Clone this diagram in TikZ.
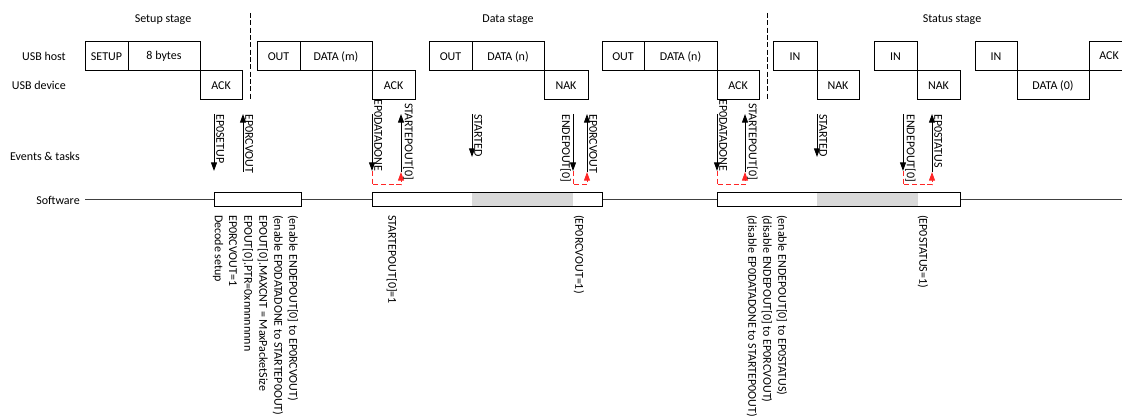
\documentclass[tikz,border=0pt]{standalone}
\usepackage{fontspec}
\setmainfont{Carlito}
\usetikzlibrary{arrows.meta}
\newcommand\pkbox[5]{\node[pkt, minimum width={(#3-#2)*0.75pt}] (#1) at (#2,#4) {#5};}
\begin{document}
\begin{tikzpicture}[x=0.75pt,y=-0.75pt,
  every node/.style={font=\fontsize{9pt}{11pt}\selectfont},
  pkt/.style={draw, line width=0.75pt, inner sep=0pt, outer sep=0pt, minimum height=21.75pt, anchor=north west},
  swbox/.style={draw, fill=white, line width=0.75pt, inner sep=0pt, outer sep=0pt, minimum height=10.5pt, anchor=north west},
  graybox/.style={fill=gray!30, inner sep=0pt, outer sep=0pt, minimum height=9.75pt, anchor=north west},
  rowlab/.style={anchor=east, inner sep=0pt},
  stagelab/.style={inner sep=0pt},
  vlab/.style={rotate=-90, anchor=west, inner sep=0pt},
  elab/.style={rotate=-90, inner xsep=0pt, inner ysep=1.5pt, anchor=south west},
  elabl/.style={rotate=-90, inner xsep=0pt, inner ysep=1.5pt, anchor=north west},
  ev/.style={line width=0.75pt, -{Triangle[length=6.5pt,width=4.5pt]}},
  redd/.style={red!85, line width=0.75pt, dash pattern=on 3.75pt off 2pt, -{Triangle[length=6.5pt,width=4.5pt]}},
  sep/.style={line width=0.75pt, dash pattern=on 3.75pt off 1.75pt},
  swline/.style={line width=0.75pt, black!75}]
\useasboundingbox (0,0) rectangle (1122,417);

% stage labels
\node[stagelab] (st1) at (163,20) {Setup stage};
\node[stagelab] (st2) at (508,20) {Data stage};
\node[stagelab] (st3) at (952,20) {Status stage};

% row labels
\node[rowlab] (lhost) at (66,56) {USB host};
\node[rowlab] (ldev) at (66,85) {USB device};
\node[rowlab] (lev) at (80,156) {Events \& tasks};
\node[rowlab] (lsw) at (80,200) {Software};

% stage separators
\coordinate (d1t) at (250,13); \coordinate (d1b) at (250,100);
\coordinate (d2t) at (767,13); \coordinate (d2b) at (767,100);
\draw[sep] (d1t) -- (d1b);
\draw[sep] (d2t) -- (d2b);

% packets
\pkbox{p1}{85}{128}{42}{SETUP}
\pkbox{p2}{128}{200}{42}{8 bytes}
\pkbox{p3}{200}{242}{71}{ACK}
\pkbox{p4}{257}{300}{42}{OUT}
\pkbox{p5}{300}{372}{42}{DATA (m)}
\pkbox{p6}{372}{415}{71}{ACK}
\pkbox{p7}{429}{472}{42}{OUT}
\pkbox{p8}{472}{544}{42}{DATA (n)}
\pkbox{p9}{544}{588}{71}{NAK}
\pkbox{p10}{602}{644}{42}{OUT}
\pkbox{p11}{644}{717}{42}{DATA (n)}
\pkbox{p12}{717}{759}{71}{ACK}
\pkbox{p13}{773}{817}{42}{IN}
\pkbox{p14}{817}{859}{71}{NAK}
\pkbox{p15}{874}{917}{42}{IN}
\pkbox{p16}{917}{960}{71}{NAK}
\pkbox{p17}{975}{1017}{42}{IN}
\pkbox{p18}{1017}{1089}{71}{DATA (0)}
\draw[line width=0.75pt] (1122,42) -- (1089,42) -- (1089,71) -- (1122,71);
\node[inner sep=0pt] (p19) at (1109,56) {ACK};

% software line and boxes
\coordinate (swl) at (85,200); \coordinate (swr) at (1122,200);
\draw[swline] (swl) -- (swr);
\node[swbox, minimum width={87*0.75pt}] (s1) at (214,193) {};
\node[swbox, minimum width={230*0.75pt}] (s2) at (372,193) {};
\node[swbox, minimum width={243*0.75pt}] (s3) at (717,193) {};
\node[graybox, minimum width={101*0.75pt}] (g2) at (472,193.5) {};
\node[graybox, minimum width={101*0.75pt}] (g3) at (817,193.5) {};

% events & tasks
\coordinate (e1t) at (214,114); \coordinate (e1b) at (214,171);
\coordinate (e2t) at (243,114); \coordinate (e2b) at (243,172);
\coordinate (e3t) at (372,114); \coordinate (e3b) at (372,171);
\coordinate (e4t) at (401,114); \coordinate (e4b) at (401,172);
\coordinate (e5t) at (472,114); \coordinate (e5b) at (472,157);
\coordinate (e6t) at (573,114); \coordinate (e6b) at (573,171);
\coordinate (e7t) at (587,114); \coordinate (e7b) at (587,172);
\coordinate (e8t) at (717,114); \coordinate (e8b) at (717,171);
\coordinate (e9t) at (745,114); \coordinate (e9b) at (745,172);
\coordinate (e10t) at (817,114); \coordinate (e10b) at (817,157);
\coordinate (e11t) at (903,114); \coordinate (e11b) at (903,171);
\coordinate (e12t) at (932,114); \coordinate (e12b) at (932,172);

\draw[ev] (e1t) -- (e1b);
\draw[ev] (e2b) -- (e2t);
\draw[ev] (e3t) -- (e3b);
\draw[ev] (e4b) -- (e4t);
\draw[ev] (e5t) -- (e5b);
\draw[ev] (e6t) -- (e6b);
\draw[ev] (e7b) -- (e7t);
\draw[ev] (e8t) -- (e8b);
\draw[ev] (e9b) -- (e9t);
\draw[ev] (e10t) -- (e10b);
\draw[ev] (e11t) -- (e11b);
\draw[ev] (e12b) -- (e12t);

\coordinate (r1) at (372,185); \coordinate (r2) at (573,185);
\coordinate (r3) at (717,185); \coordinate (r4) at (903,185);
\draw[redd] (e3b) -- (r1) -| (e4b);
\draw[redd] (e6b) -- (r2) -| (e7b);
\draw[redd] (e8b) -- (r3) -| (e9b);
\draw[redd] (e11b) -- (r4) -| (e12b);

\node[elab] (t1) at (214,114) {EP0SETUP};
\node[elab] (t2) at (243,114) {EP0RCVOUT};
\node[elab] (t3) at (372,99) {EP0DATADONE};
\node[elab] (t4) at (401,103) {STARTEPOUT[0]};
\node[elab] (t5) at (472,114) {STARTED};
\node[elabl] (t6) at (573,114) {ENDEPOUT[0]};
\node[elab] (t7) at (587,114) {EP0RCVOUT};
\node[elab] (t8) at (717,99) {EP0DATADONE};
\node[elab] (t9) at (745,103) {STARTEPOUT[0]};
\node[elab] (t10) at (817,114) {STARTED};
\node[elab] (t11) at (903,114) {ENDEPOUT[0]};
\node[elab] (t12) at (932,114) {EP0STATUS};

% software notes
\node[vlab] (n1) at (218,215) {Decode setup};
\node[vlab] (n2) at (233,215) {EP0RCVOUT=1};
\node[vlab] (n3) at (248,215) {EPOUT[0].PTR=0xnnnnnnnn};
\node[vlab] (n4) at (263,215) {EPOUT[0].MAXCNT = MaxPacketSize};
\node[vlab] (n5) at (278,215) {(enable EP0DATADONE to STARTEP0OUT)};
\node[vlab] (n6) at (293,215) {(enable ENDEPOUT[0] to EP0RCVOUT)};
\node[vlab] (n7) at (392,215) {STARTEPOUT[0]=1};
\node[vlab] (n8) at (579,215) {(EP0RCVOUT=1)};
\node[vlab] (n9) at (752,215) {(disable EP0DATADONE to STARTEP0OUT)};
\node[vlab] (n10) at (767,215) {(disable ENDEPOUT[0] to EP0RCVOUT)};
\node[vlab] (n11) at (782,215) {(enable ENDEPOUT[0] to EP0STATUS)};
\node[vlab] (n12) at (923,215) {(EP0STATUS=1)};
\end{tikzpicture}
\end{document}
